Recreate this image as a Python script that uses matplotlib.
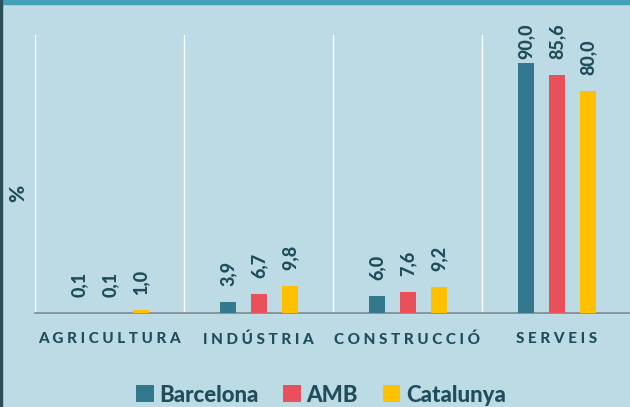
import matplotlib
matplotlib.use("Agg")
import matplotlib.pyplot as plt
import numpy as np
from matplotlib.patches import Rectangle

plt.rcParams['font.family'] = ['Lato', 'DejaVu Sans']

sectors = ["AGRICULTURA", "INDÚSTRIA", "CONSTRUCCIÓ", "SERVEIS"]
series = ["Barcelona", "AMB", "Catalunya"]
barcelona = [0.1, 3.9, 6.0, 90.0]
amb = [0.1, 6.7, 7.6, 85.6]
catalunya = [1.0, 9.8, 9.2, 80.0]

colors = ['#34788e', '#e9505a', '#ffc000']
txt = '#1f4d5c'
bg = '#bcdbe5'
wt = 900

fig = plt.figure(figsize=(6.3, 4.07), dpi=100, facecolor=bg)
# top strip and left border
fig.patches.append(Rectangle((0, 1 - 4/407), 1, 4/407, transform=fig.transFigure,
                             color='#45a0ba', zorder=0))
fig.patches.append(Rectangle((0, 0), 2/630, 1, transform=fig.transFigure,
                             color='#2d4f5c', zorder=0))

ax = fig.add_axes([35/630, 94/407, 596/630, 278/407])
ax.set_facecolor(bg)

x = np.arange(len(sectors))
off = 0.208
w = 0.108
px_per_unit = 278 / 100
for i, (vals, c) in enumerate(zip([barcelona, amb, catalunya], colors)):
    pos = x + (i - 1) * off + 0.004
    ax.bar(pos, vals, width=w, color=c, label=series[i], zorder=3)
    for p, v in zip(pos, vals):
        lab = f"{v:.1f}".replace('.', ',')
        # keep the label below the top of the frame, like the original
        gap = min(16, (91.5 - v) * px_per_unit)
        gap = max(gap, 3.5)
        ax.annotate(lab, (p, v), xytext=(0, gap * 0.72),
                    textcoords='offset points', rotation=90, ha='center',
                    va='bottom', fontsize=13, fontweight=wt, color=txt)

ax.set_xlim(-0.5, 3.5)
ax.set_ylim(0, 100)
for b in np.arange(-0.5, 4, 1):
    ax.axvline(b, color='white', lw=1, zorder=1)

for s in ['top', 'right', 'left']:
    ax.spines[s].set_visible(False)
ax.spines['bottom'].set_color('#7f8a8e')
ax.spines['bottom'].set_linewidth(1.2)
ax.set_yticks([])
ax.set_xticks(x)
ax.set_xticklabels([' '.join(s) for s in sectors], fontsize=11,
                   fontweight=wt, color=txt)
ax.tick_params(axis='x', length=0, pad=14)

fig.text(18/630, 1 - 193/407, '%', rotation=90, ha='center', va='center',
         fontsize=15, fontweight=wt, color=txt)

fig.legend(loc='center', bbox_to_anchor=(321/630, 1 - 395/407), ncol=3,
           frameon=False, handlelength=0.8, handleheight=0.8,
           handletextpad=0.25, columnspacing=1.1,
           prop={'size': 16, 'weight': wt}, labelcolor=txt)

fig.savefig('out.png', dpi=100, facecolor=bg)
